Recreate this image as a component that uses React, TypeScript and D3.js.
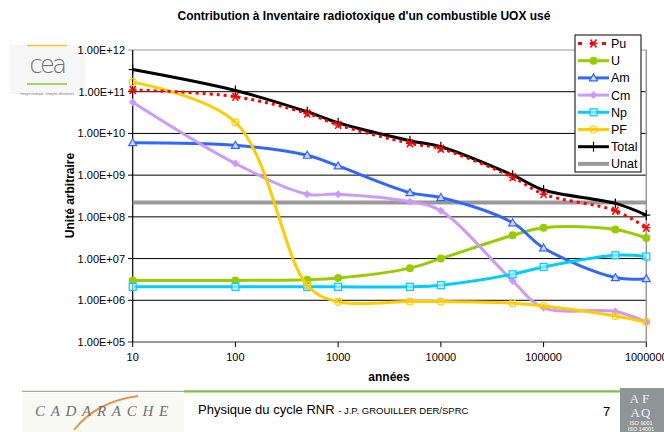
import React from "react";
import * as d3 from "d3";

const years = [10, 100, 500, 1000, 5000, 10000, 50000, 100000, 500000, 1000000];
const pu = [1.1e11, 7.6e10, 3.0e10, 1.6e10, 5.8e9, 4.3e9, 8.9e8, 3.5e8, 1.4e8, 5.5e7];
const u = [3.0e6, 3.0e6, 3.1e6, 3.4e6, 5.9e6, 1.0e7, 3.6e7, 5.5e7, 5.0e7, 3.1e7];
const am = [6.0e9, 5.2e9, 3.0e9, 1.66e9, 3.8e8, 2.9e8, 7.2e7, 1.8e7, 3.5e6, 3.3e6];
const cm = [5.6e10, 1.9e9, 3.5e8, 3.5e8, 2.3e8, 1.4e8, 2.9e6, 6.6e5, 5.4e5, 3.0e5];
const np = [2.1e6, 2.1e6, 2.1e6, 2.1e6, 2.1e6, 2.3e6, 4.2e6, 6.3e6, 1.2e7, 1.12e7];
const pf = [1.7e11, 1.85e10, 2.3e6, 9.2e5, 9.3e5, 9.3e5, 8.5e5, 7.3e5, 4.2e5, 3.0e5];
const total = [3.4e11, 1.07e11, 3.3e10, 1.8e10, 6.7e9, 4.8e9, 1.0e9, 4.4e8, 2.1e8, 1.1e8];
const unat = [2.2e8, 2.2e8, 2.2e8, 2.2e8, 2.2e8, 2.2e8, 2.2e8, 2.2e8, 2.2e8, 2.2e8];

const seriesNames = ["Pu", "U", "Am", "Cm", "Np", "PF", "Total", "Unat"];
const xTicks = [10, 100, 1000, 10000, 100000, 1000000];
const yTicks = [1e5, 1e6, 1e7, 1e8, 1e9, 1e10, 1e11, 1e12];
const yTickLabels = ["1.00E+05", "1.00E+06", "1.00E+07", "1.00E+08", "1.00E+09", "1.00E+10", "1.00E+11", "1.00E+12"];
const title = "Contribution à Inventaire radiotoxique d'un combustible UOX usé";

type Style = { color: string; width: number; dash?: string; marker: string };
const styles: Record<string, Style> = {
  Pu: { color: "#ff0000", width: 3, dash: "3,4", marker: "asterisk" },
  U: { color: "#99cc00", width: 3, marker: "circleFill" },
  Am: { color: "#3366ff", width: 3, marker: "triangle" },
  Cm: { color: "#cc99ff", width: 3, marker: "diamond" },
  Np: { color: "#00ccff", width: 3, marker: "square" },
  PF: { color: "#ffcc00", width: 3, marker: "circle" },
  Total: { color: "#000000", width: 3, marker: "plus" },
  Unat: { color: "#999999", width: 4, marker: "none" },
};

const FONT = "'Liberation Sans', Arial, sans-serif";

function Marker({ type, x, y, color }: { type: string; x: number; y: number; color: string }) {
  const s = 3.5;
  switch (type) {
    case "circleFill":
      return <circle cx={x} cy={y} r={4} fill={color} />;
    case "circle":
      return <circle cx={x} cy={y} r={3.5} fill="none" stroke={color} strokeWidth={1.2} />;
    case "square":
      return <rect x={x - s} y={y - s} width={2 * s} height={2 * s} fill="#c8f0ff" fillOpacity={0.6} stroke={color} strokeWidth={1.2} />;
    case "triangle":
      return <path d={`M${x},${y - 4}L${x + 4},${y + 3}L${x - 4},${y + 3}Z`} fill="#ccd9ff" stroke={color} strokeWidth={1.2} />;
    case "diamond":
      return <path d={`M${x},${y - 4}L${x + 4},${y}L${x},${y + 4}L${x - 4},${y}Z`} fill={color} />;
    case "asterisk":
      return (
        <g stroke={color} strokeWidth={1.5}>
          <line x1={x - 4} y1={y} x2={x + 4} y2={y} />
          <line x1={x - 3} y1={y - 4} x2={x + 3} y2={y + 4} />
          <line x1={x + 3} y1={y - 4} x2={x - 3} y2={y + 4} />
        </g>
      );
    case "plus":
      return (
        <g stroke={color} strokeWidth={1.2}>
          <line x1={x - 4} y1={y} x2={x + 4} y2={y} />
          <line x1={x} y1={y - 5} x2={x} y2={y + 5} />
        </g>
      );
    default:
      return null;
  }
}

export default function App() {
  const W = 664, H = 432;
  const x = d3.scaleLog().domain([10, 1e6]).range([132.7, 646.3]);
  const y = d3.scaleLog().domain([1e5, 1e12]).range([342, 50]);
  const data: Record<string, number[]> = { Pu: pu, U: u, Am: am, Cm: cm, Np: np, PF: pf, Total: total, Unat: unat };
  const line = d3
    .line<number>()
    .x((_, i) => x(years[i]))
    .y((d) => y(d))
    .curve(d3.curveCatmullRom.alpha(0.5));

  const drawOrder = ["Unat", "U", "Am", "Cm", "Np", "PF", "Total", "Pu"];
  const legendX = 575, legendY = 35, legendW = 66, legendH = 137;
  const rowH = 17.2;

  return (
    <svg width={W} height={H} style={{ position: "absolute", left: 0, top: 0, background: "#fff" }} fontFamily={FONT}>
      <rect width={W} height={H} fill="#fff" />
      {/* title */}
      <text x={364} y={20} textAnchor="middle" fontSize={12} fontWeight="bold" fill="#000">{title}</text>

      {/* cea logo */}
      <rect x={10} y={45} width={75} height={49} fill="#f6f6f6" />
      <line x1={27} x2={67} y1={45.5} y2={45.5} stroke="#f5c12e" strokeWidth={1.5} />
      <line x1={27} x2={67} y1={84} y2={84} stroke="#8cc63f" strokeWidth={1.5} />
      <text x={47} y={73} textAnchor="middle" fontSize={24} fill="#6d6e71" fontFamily="'DejaVu Sans', sans-serif" fontWeight={300} letterSpacing={-2.5}>cea</text>
      <text x={47} y={95} textAnchor="middle" fontSize={3} fill="#777">énergie atomique - énergies alternatives</text>

      {/* grid */}
      {yTicks.map((t, i) => (
        <line key={"g" + i} x1={128} x2={646.3} y1={y(t)} y2={y(t)}
          stroke={i === 0 || i === yTicks.length - 1 ? "#999" : "#000"} strokeWidth={i === 0 ? 2 : 1} />
      ))}
      <line x1={646.3} x2={646.3} y1={50} y2={342} stroke="#999" strokeWidth={1.5} />
      <line x1={132.7} x2={132.7} y1={50} y2={342} stroke="#000" strokeWidth={1.2} />
      {xTicks.map((t, i) => (
        <line key={"xt" + i} x1={x(t)} x2={x(t)} y1={342} y2={347} stroke="#000" strokeWidth={1} />
      ))}
      {yTicks.map((t, i) => (
        <text key={"yl" + i} x={125} y={y(t) + 4} textAnchor="end" fontSize={11} fill="#000">{yTickLabels[i]}</text>
      ))}
      {xTicks.map((t, i) => (
        <text key={"xl" + i} x={x(t)} y={361} textAnchor="middle" fontSize={11} fill="#000">{String(t)}</text>
      ))}
      <text x={389} y={381} textAnchor="middle" fontSize={12} fontWeight="bold" fill="#000">années</text>
      <text transform="translate(74,195.5) rotate(-90)" textAnchor="middle" fontSize={12} fontWeight="bold" fill="#000">Unité arbitraire</text>

      {/* series */}
      {drawOrder.map((name) => {
        const st = styles[name];
        return (
          <g key={name}>
            <path d={line(data[name]) || ""} fill="none" stroke={st.color} strokeWidth={st.width}
              strokeDasharray={st.dash} strokeLinejoin="round" />
            {data[name].map((v, i) => (
              <Marker key={i} type={st.marker} x={x(years[i])} y={y(v)} color={st.color} />
            ))}
          </g>
        );
      })}

      {/* legend */}
      <rect x={legendX} y={legendY} width={legendW} height={legendH} fill="#fff" stroke="#000" strokeWidth={1} />
      {seriesNames.map((name, i) => {
        const st = styles[name];
        const cy = legendY + 8.5 + i * rowH;
        return (
          <g key={"lg" + name}>
            <line x1={578} x2={609} y1={cy} y2={cy} stroke={st.color} strokeWidth={st.width} strokeDasharray={st.dash ? "4,8" : undefined} />
            <Marker type={st.marker} x={593.5} y={cy} color={st.color} />
            <text x={611} y={cy + 4.5} fontSize={12.5} fill="#000">{name}</text>
          </g>
        );
      })}

      {/* footer */}
      <line x1={22} x2={184} y1={391.3} y2={391.3} stroke="#aaa" strokeWidth={1.2} />
      <line x1={184} x2={660} y1={391.3} y2={391.3} stroke="#77c043" strokeWidth={2.2} />
      <rect x={22} y={393} width={162} height={39} fill="#fafaf5" />
      <path d="M74,430 C90,410 110,400 138,396" fill="none" stroke="#e07a2a" strokeWidth={2} opacity={0.8} />
      <text x={35} y={416} fontSize={15} fontStyle="italic" fill="#6b6f78" letterSpacing={5.7} fontFamily="'Liberation Serif', serif">CADARACHE</text>
      <text x={198} y={414} fontSize={13} fill="#000">Physique du cycle RNR <tspan fontSize={9.5}>- J.P. GROUILLER DER/SPRC</tspan></text>
      <text x={603} y={416} fontSize={13} fill="#000">7</text>
      {/* AFAQ logo */}
      <rect x={620} y={388} width={44} height={44} fill="#8e9597" />
      <text x={641} y={403} textAnchor="middle" fontSize={13} fill="#eef" fontFamily="'Liberation Serif', serif" letterSpacing={3}>AF</text>
      <text x={641} y={417} textAnchor="middle" fontSize={13} fill="#eef" fontFamily="'Liberation Serif', serif" letterSpacing={1}>AQ</text>
      <text x={641} y={425} textAnchor="middle" fontSize={5.5} fill="#fff">ISO 9001</text>
      <text x={641} y={431} textAnchor="middle" fontSize={5.5} fill="#fff">ISO 14001</text>
    </svg>
  );
}
